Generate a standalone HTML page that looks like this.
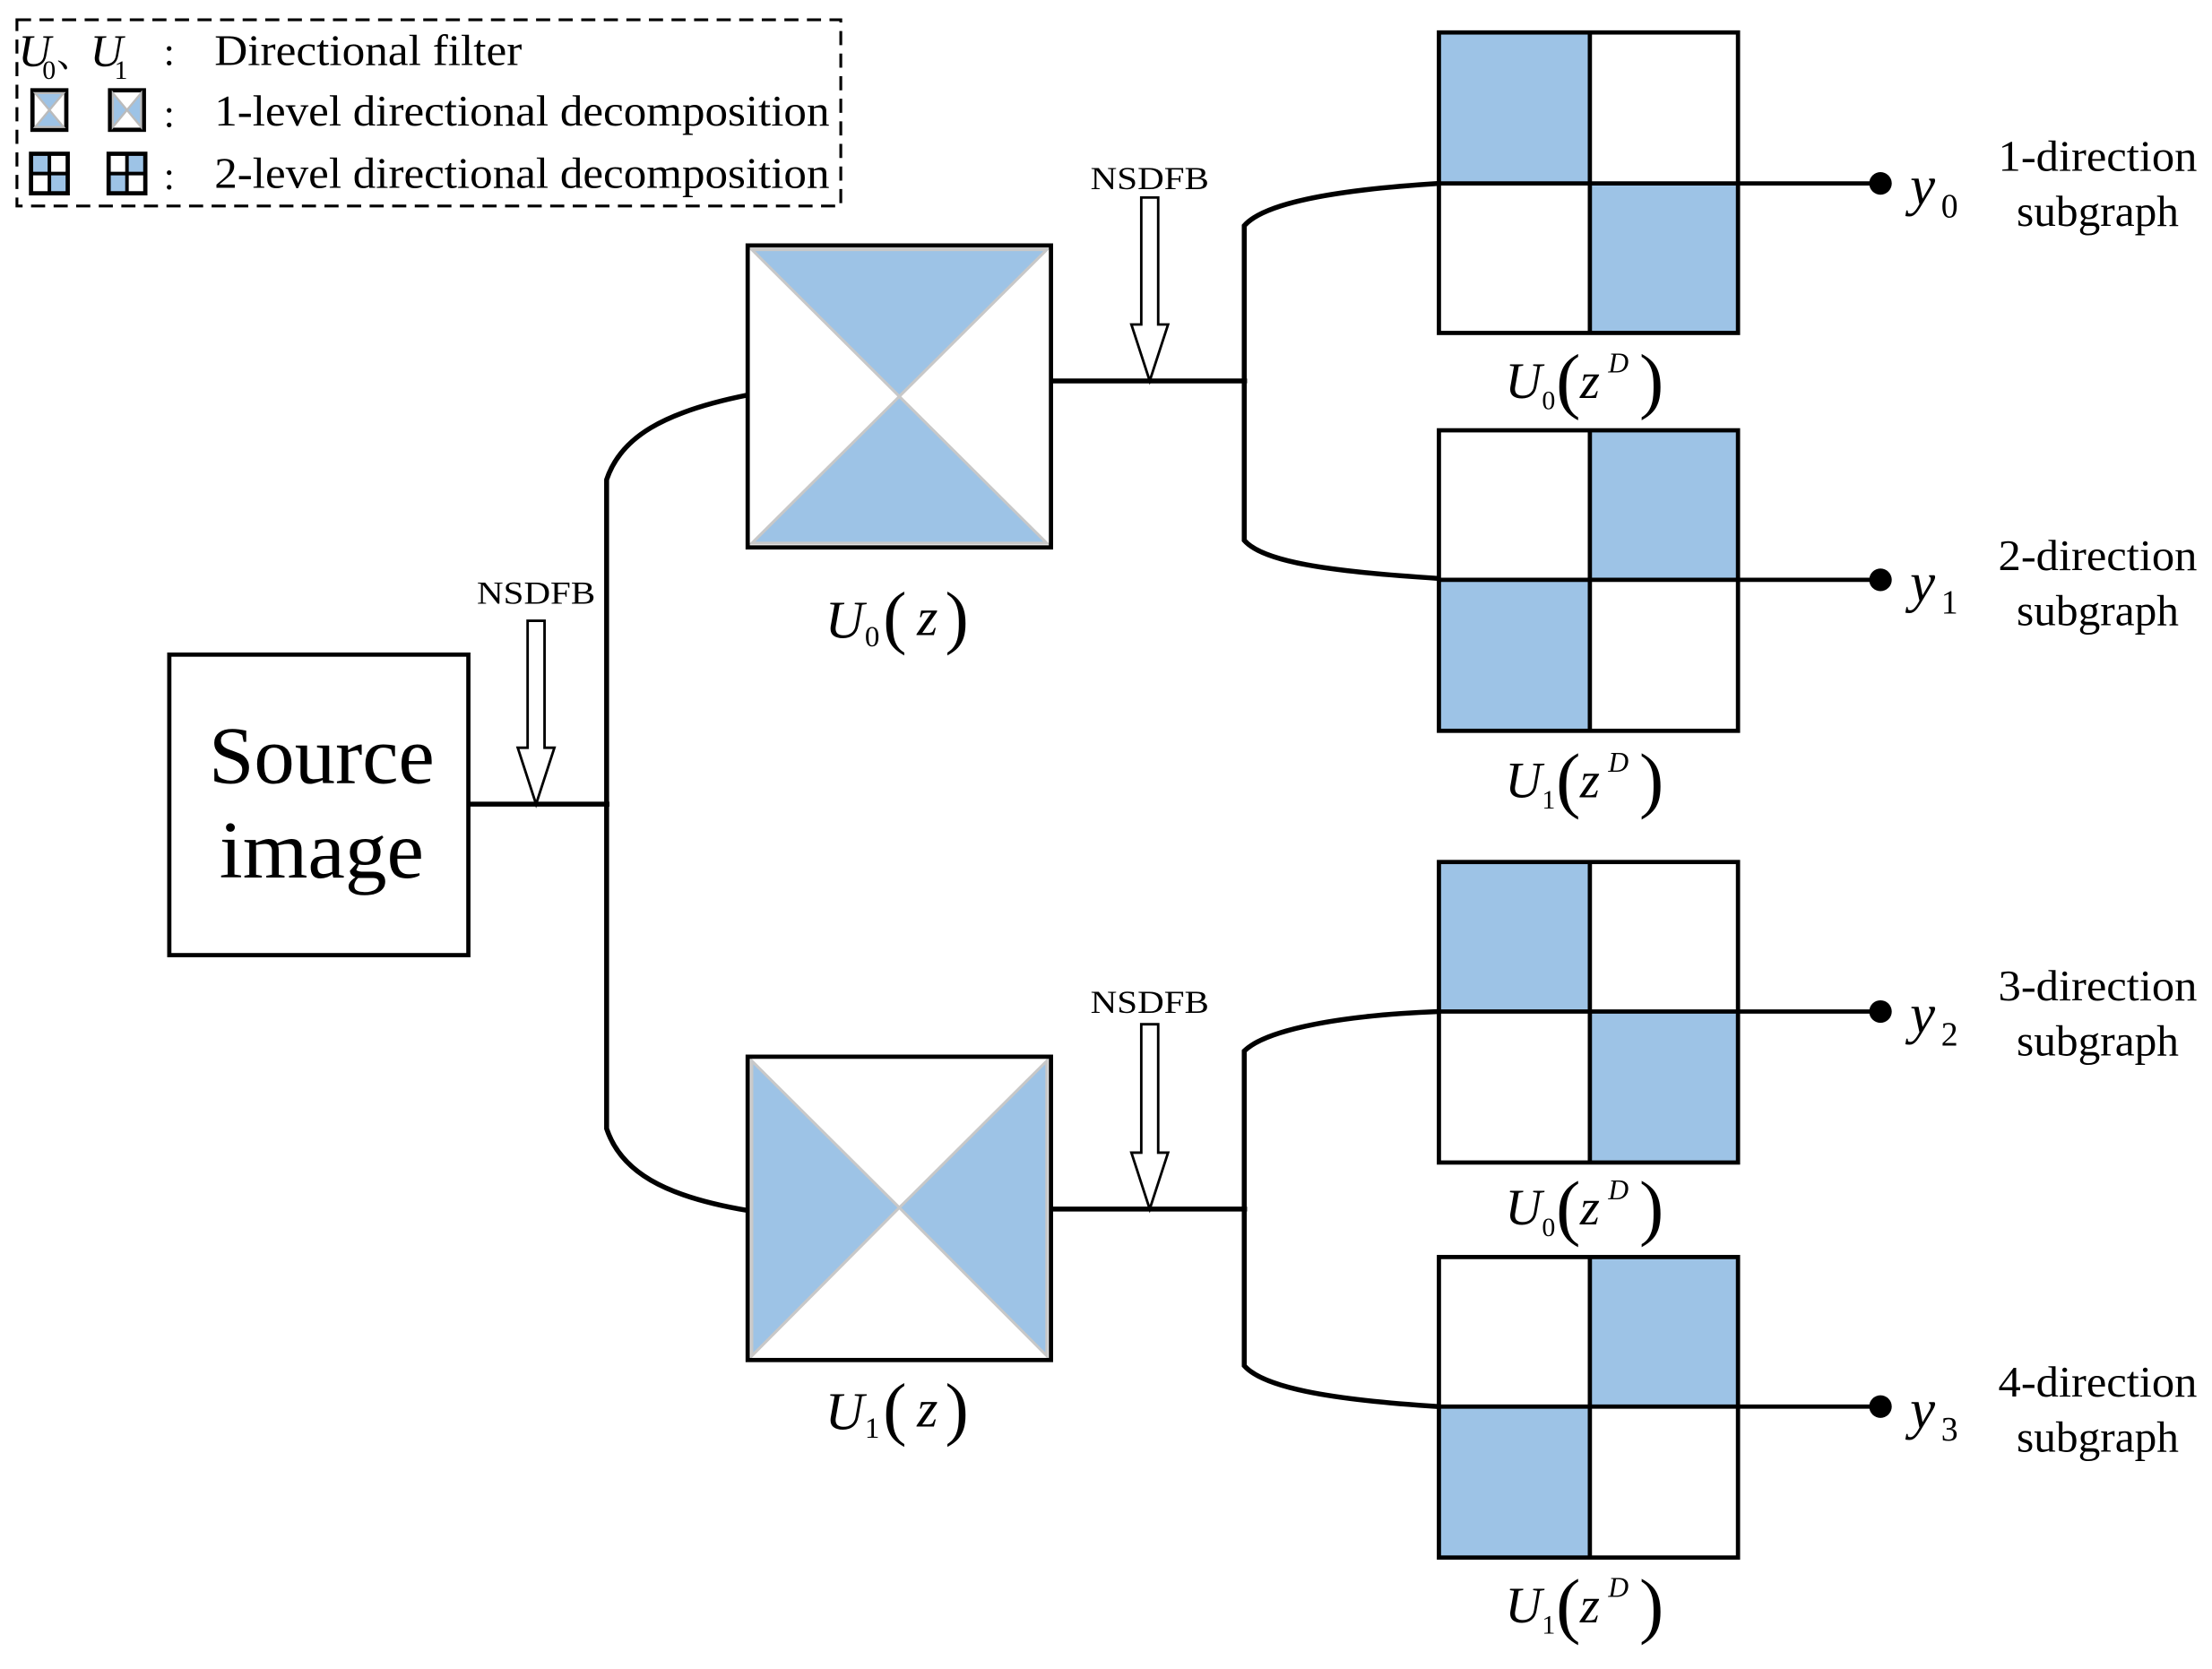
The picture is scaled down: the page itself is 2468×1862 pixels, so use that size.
<!DOCTYPE html>
<html><head><meta charset="utf-8"><style>
html,body{margin:0;padding:0;background:#fff;}
svg{display:block;}
text{font-family:"Liberation Serif","Noto Serif CJK SC",serif;fill:#000;}
.it{font-style:italic;}
</style></head><body>
<svg width="2468" height="1862" viewBox="0 0 1568 1183" xmlns="http://www.w3.org/2000/svg">
<rect width="1568" height="1183" fill="#fff"/>
<!-- Legend -->
<rect x="12" y="14" width="584" height="132" fill="none" stroke="#000" stroke-width="2" stroke-dasharray="10,6"/>
<text x="13" y="47" font-size="32" class="it">U</text><text x="30" y="56" font-size="19">0</text>
<text x="40" y="47" font-size="26">、</text>
<text x="64" y="47" font-size="32" class="it">U</text><text x="81" y="56" font-size="19">1</text>
<text x="116" y="46" font-size="28">:</text>
<text x="152" y="46" font-size="31" textLength="218" lengthAdjust="spacingAndGlyphs">Directional filter</text>
<g stroke-width="2">
<rect x="23" y="64" width="24" height="28" fill="#fff" stroke="#000" stroke-width="3"/>
<polygon points="25,66 45,66 35,78" fill="#9DC3E6" stroke="#bbb" stroke-width="1.5"/>
<polygon points="25,90 45,90 35,78" fill="#9DC3E6" stroke="#bbb" stroke-width="1.5"/>
<rect x="78" y="64" width="24" height="28" fill="#fff" stroke="#000" stroke-width="3"/>
<polygon points="80,66 80,90 90,78" fill="#9DC3E6" stroke="#bbb" stroke-width="1.5"/>
<polygon points="100,66 100,90 90,78" fill="#9DC3E6" stroke="#bbb" stroke-width="1.5"/>
</g>
<text x="116" y="90" font-size="28">:</text>
<text x="152" y="89" font-size="31" textLength="436" lengthAdjust="spacingAndGlyphs">1-level directional decomposition</text>
<g>
<rect x="22" y="109" width="26" height="28" fill="#fff"/>
<rect x="22" y="109" width="13" height="14" fill="#9DC3E6"/><rect x="35" y="123" width="13" height="14" fill="#9DC3E6"/>
<rect x="22" y="109" width="26" height="28" fill="none" stroke="#000" stroke-width="3"/>
<line x1="35" y1="109" x2="35" y2="137" stroke="#000" stroke-width="2.5"/><line x1="22" y1="123" x2="48" y2="123" stroke="#000" stroke-width="2.5"/>
<rect x="77" y="109" width="26" height="28" fill="#fff"/>
<rect x="90" y="109" width="13" height="14" fill="#9DC3E6"/><rect x="77" y="123" width="13" height="14" fill="#9DC3E6"/>
<rect x="77" y="109" width="26" height="28" fill="none" stroke="#000" stroke-width="3"/>
<line x1="90" y1="109" x2="90" y2="137" stroke="#000" stroke-width="2.5"/><line x1="77" y1="123" x2="103" y2="123" stroke="#000" stroke-width="2.5"/>
</g>
<text x="116" y="134" font-size="28">:</text>
<text x="152" y="133" font-size="31" textLength="436" lengthAdjust="spacingAndGlyphs">2-level directional decomposition</text>

<!-- Source image -->
<rect x="120" y="464" width="212" height="213" fill="#fff" stroke="#000" stroke-width="3"/>
<text x="228" y="555" font-size="58" text-anchor="middle" textLength="160" lengthAdjust="spacingAndGlyphs">Source</text>
<text x="228" y="622" font-size="58" text-anchor="middle" textLength="145" lengthAdjust="spacingAndGlyphs">image</text>

<g fill="none" stroke="#000" stroke-width="3.5">
<line x1="332" y1="570" x2="432" y2="570"/>
<path d="M530,280 C470,292 440,310 430,340 L430,800 C440,830 470,848 530,858"/>
<line x1="745" y1="270" x2="884" y2="270"/>
<path d="M1020,130 C940,135 895,145 882,160 L882,383 C895,398 940,405 1020,410"/>
<line x1="745" y1="857" x2="884" y2="857"/>
<path d="M1020,717 C940,720 895,732 882,745 L882,968 C895,983 940,992 1020,997"/>
</g>

<!-- hollow arrows -->
<g fill="#fff" stroke="#000" stroke-width="1.8">
<path d="M374,440 L386,440 L386,530 L393,530 L380,570 L367,530 L374,530 Z"/>
<path d="M809,140 L821,140 L821,230 L828,230 L815,270 L802,230 L809,230 Z"/>
<path d="M809,726 L821,726 L821,817 L828,817 L815,857 L802,817 L809,817 Z"/>
</g>
<text x="380" y="428" font-size="23" text-anchor="middle" textLength="84" lengthAdjust="spacingAndGlyphs">NSDFB</text>
<text x="815" y="134" font-size="23" text-anchor="middle" textLength="84" lengthAdjust="spacingAndGlyphs">NSDFB</text>
<text x="815" y="718" font-size="23" text-anchor="middle" textLength="84" lengthAdjust="spacingAndGlyphs">NSDFB</text>

<!-- U0(z) box -->
<rect x="530" y="174" width="215" height="214" fill="#fff"/>
<polygon points="533,177 742,177 637.5,281" fill="#9DC3E6" stroke="#c8c8c8" stroke-width="2"/>
<polygon points="533,385 742,385 637.5,281" fill="#9DC3E6" stroke="#c8c8c8" stroke-width="2"/>
<rect x="530" y="174" width="215" height="214" fill="none" stroke="#000" stroke-width="3"/>
<!-- U1(z) box -->
<rect x="530" y="749" width="215" height="215" fill="#fff"/>
<polygon points="533,752 533,961 637.5,856" fill="#9DC3E6" stroke="#c8c8c8" stroke-width="2"/>
<polygon points="742,752 742,961 637.5,856" fill="#9DC3E6" stroke="#c8c8c8" stroke-width="2"/>
<rect x="530" y="749" width="215" height="215" fill="none" stroke="#000" stroke-width="3"/>

<!-- labels U(z) -->
<g>
<text x="585" y="452" font-size="38" class="it">U</text><text x="613" y="458" font-size="21">0</text>
<text x="626" y="454" font-size="50">(</text><text x="650" y="450" font-size="38" class="it">z</text><text x="670" y="454" font-size="50">)</text>
<text x="585" y="1013" font-size="38" class="it">U</text><text x="613" y="1019" font-size="21">1</text>
<text x="626" y="1015" font-size="50">(</text><text x="650" y="1011" font-size="38" class="it">z</text><text x="670" y="1015" font-size="50">)</text>
</g>

<!-- grids -->
<g id="grids">
<rect x="1020" y="23" width="107" height="107" fill="#9DC3E6"/><rect x="1127" y="130" width="105" height="106" fill="#9DC3E6"/>
<rect x="1127" y="305" width="105" height="106" fill="#9DC3E6"/><rect x="1020" y="411" width="107" height="107" fill="#9DC3E6"/>
<rect x="1020" y="611" width="107" height="106" fill="#9DC3E6"/><rect x="1127" y="717" width="105" height="107" fill="#9DC3E6"/>
<rect x="1127" y="891" width="105" height="106" fill="#9DC3E6"/><rect x="1020" y="997" width="107" height="107" fill="#9DC3E6"/>
<g fill="none" stroke="#000" stroke-width="3">
<rect x="1020" y="23" width="212" height="213"/><line x1="1127" y1="23" x2="1127" y2="236"/>
<rect x="1020" y="305" width="212" height="213"/><line x1="1127" y1="305" x2="1127" y2="518"/>
<rect x="1020" y="611" width="212" height="213"/><line x1="1127" y1="611" x2="1127" y2="824"/>
<rect x="1020" y="891" width="212" height="213"/><line x1="1127" y1="891" x2="1127" y2="1104"/>
</g>
<g stroke="#000" stroke-width="3">
<line x1="1020" y1="130" x2="1333" y2="130"/>
<line x1="1020" y1="411" x2="1333" y2="411"/>
<line x1="1020" y1="717" x2="1333" y2="717"/>
<line x1="1020" y1="997" x2="1333" y2="997"/>
</g>
<g fill="#000"><circle cx="1333" cy="130" r="8"/><circle cx="1333" cy="411" r="8"/><circle cx="1333" cy="717" r="8"/><circle cx="1333" cy="997" r="8"/></g>
</g>

<!-- U(z^D) labels -->
<g>
<text x="1067" y="282" font-size="36" class="it">U</text><text x="1093" y="290" font-size="19">0</text><text x="1103" y="287" font-size="52">(</text><text x="1120" y="282" font-size="36" class="it">z</text><text x="1140" y="264" font-size="20" class="it">D</text><text x="1162" y="287" font-size="52">)</text>
<text x="1067" y="565" font-size="36" class="it">U</text><text x="1093" y="573" font-size="19">1</text><text x="1103" y="570" font-size="52">(</text><text x="1120" y="565" font-size="36" class="it">z</text><text x="1140" y="547" font-size="20" class="it">D</text><text x="1162" y="570" font-size="52">)</text>
<text x="1067" y="868" font-size="36" class="it">U</text><text x="1093" y="876" font-size="19">0</text><text x="1103" y="873" font-size="52">(</text><text x="1120" y="868" font-size="36" class="it">z</text><text x="1140" y="850" font-size="20" class="it">D</text><text x="1162" y="873" font-size="52">)</text>
<text x="1067" y="1150" font-size="36" class="it">U</text><text x="1093" y="1158" font-size="19">1</text><text x="1103" y="1155" font-size="52">(</text><text x="1120" y="1150" font-size="36" class="it">z</text><text x="1140" y="1132" font-size="20" class="it">D</text><text x="1162" y="1155" font-size="52">)</text>
</g>

<!-- y labels -->
<g>
<text x="1354" y="145" font-size="40" class="it">y</text><text x="1376" y="154" font-size="24">0</text>
<text x="1354" y="426" font-size="40" class="it">y</text><text x="1376" y="435" font-size="24">1</text>
<text x="1354" y="732" font-size="40" class="it">y</text><text x="1376" y="741" font-size="24">2</text>
<text x="1354" y="1012" font-size="40" class="it">y</text><text x="1376" y="1021" font-size="24">3</text>
</g>
<g font-size="31" text-anchor="middle">
<text x="1487" y="121" textLength="141" lengthAdjust="spacingAndGlyphs">1-direction</text><text x="1487" y="160" textLength="115" lengthAdjust="spacingAndGlyphs">subgraph</text>
<text x="1487" y="404" textLength="141" lengthAdjust="spacingAndGlyphs">2-direction</text><text x="1487" y="443" textLength="115" lengthAdjust="spacingAndGlyphs">subgraph</text>
<text x="1487" y="709" textLength="141" lengthAdjust="spacingAndGlyphs">3-direction</text><text x="1487" y="748" textLength="115" lengthAdjust="spacingAndGlyphs">subgraph</text>
<text x="1487" y="990" textLength="141" lengthAdjust="spacingAndGlyphs">4-direction</text><text x="1487" y="1029" textLength="115" lengthAdjust="spacingAndGlyphs">subgraph</text>
</g>
</svg>
</body></html>
